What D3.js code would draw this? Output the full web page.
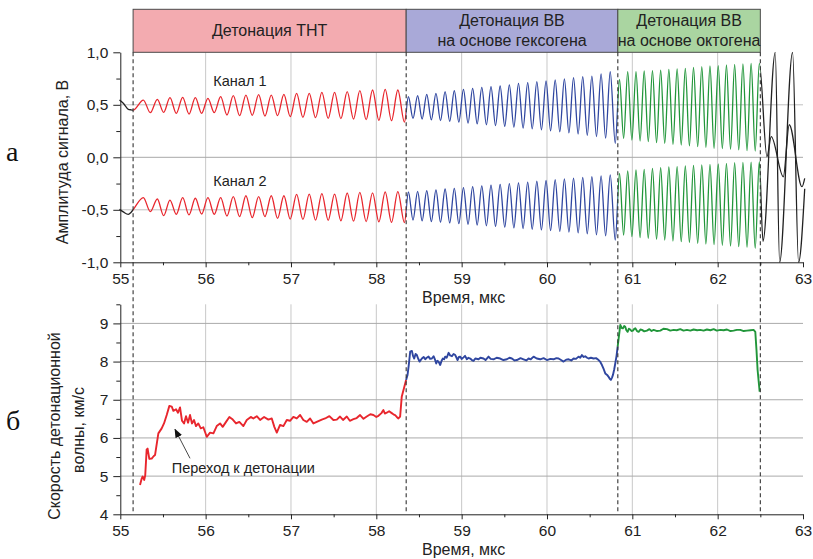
<!DOCTYPE html>
<html><head><meta charset="utf-8">
<script src="https://cdn.jsdelivr.net/npm/d3@7"></script>
<style>
body{margin:0;background:#fff}
svg{display:block}
</style>
</head><body><svg id="c" width="813" height="559"></svg>
<script>
// ---------------- DATA ----------------
const timeTicks = [55,56,57,58,59,60,61,62,63];
const timeMinor = [55.5,56.5,57.5,58.5,59.5,60.5,61.5,62.5];
const ampTicks = [-1,-0.5,0,0.5,1];
const ampTickLabels = ["-1,0","-0,5","0,0","0,5","1,0"];
const ampMinor = [-0.75,-0.25,0.25,0.75];
const velTicks = [4,5,6,7,8,9];
const velMinor = [4.5,5.5,6.5,7.5,8.5,9.5];

const phaseBounds = [55.15, 58.35, 60.83, 62.5];
const phaseNames = [["Детонация ТНТ"],["Детонация ВВ","на основе гексогена"],["Детонация ВВ","на основе октогена"]];
const phaseFills = ["#f3abb0","#a9a9d8","#aad5a1"];
const phaseColors = ["#e8262d","#2f46a0","#21963a"];

// signal extrema (time, µs) shared by both channels from 55.15 to 62.49
const sigTimes = [55.150,
 55.270,55.352,55.434,55.508,55.582,55.656,55.731,55.805,55.879,55.953,
 56.027,56.101,56.176,56.250,56.324,56.398,56.472,56.546,56.621,56.695,
 56.769,56.843,56.917,56.991,57.066,57.140,57.214,57.288,57.362,57.436,
 57.511,57.585,57.659,57.733,57.807,57.881,57.956,58.030,58.104,58.178,
 58.252,58.330,
 58.376,58.430,58.484,58.537,58.591,58.645,58.699,58.752,58.806,58.860,
 58.914,58.967,59.021,59.075,59.129,59.182,59.236,59.290,59.344,59.397,
 59.451,59.505,59.559,59.612,59.666,59.720,59.774,59.827,59.881,59.935,
 59.989,60.042,60.096,60.150,60.204,60.257,60.311,60.365,60.419,60.472,
 60.526,60.580,60.634,60.687,60.741,60.800,
 60.850,60.898,60.946,60.995,61.043,61.091,61.139,61.187,61.236,61.284,
 61.332,61.380,61.428,61.476,61.525,61.573,61.621,61.669,61.717,61.766,
 61.814,61.862,61.910,61.958,62.007,62.055,62.103,62.151,62.199,62.247,
 62.296,62.344,62.392,62.440,62.488];

const ch1Values = [0.45,
 0.545,0.425,0.552,0.428,0.568,0.419,0.571,0.412,0.568,0.419,0.562,0.425,0.577,0.403,0.587,0.397,0.593,0.400,0.597,0.393,
 0.593,0.397,0.600,0.387,0.609,0.381,0.609,0.377,0.619,0.371,0.619,0.368,0.625,0.365,0.635,0.358,0.641,0.352,0.647,0.349,
 0.641,0.335,
 0.577,0.370,0.587,0.365,0.600,0.357,0.609,0.350,0.625,0.342,0.635,0.335,0.647,0.326,0.657,0.318,0.666,0.310,0.673,0.302,
 0.679,0.295,0.689,0.287,0.704,0.278,0.711,0.270,0.720,0.262,0.727,0.252,0.736,0.243,0.746,0.232,0.758,0.222,0.768,0.210,
 0.774,0.198,0.794,0.182,0.815,0.133,
 0.743,0.181,0.816,0.165,0.816,0.155,0.822,0.149,0.825,0.139,0.831,0.133,0.838,0.124,0.841,0.117,0.847,0.108,0.857,0.101,
 0.863,0.095,0.870,0.085,0.873,0.082,0.879,0.076,0.885,0.070,0.889,0.063,0.895,0.060,0.895];

const ch2Values = [-0.50,
 -0.384,-0.518,-0.397,-0.556,-0.407,-0.543,-0.384,-0.549,-0.390,-0.540,-0.384,-0.543,-0.384,-0.559,-0.375,-0.565,-0.366,-0.575,-0.375,-0.565,
 -0.366,-0.581,-0.366,-0.588,-0.353,-0.592,-0.350,-0.598,-0.345,-0.600,-0.350,-0.605,-0.340,-0.608,-0.335,-0.612,-0.338,-0.615,-0.330,-0.620,
 -0.327,-0.623,
 -0.330,-0.597,-0.325,-0.605,-0.318,-0.612,-0.310,-0.618,-0.302,-0.625,-0.295,-0.632,-0.288,-0.638,-0.280,-0.645,-0.272,-0.652,-0.265,-0.658,
 -0.258,-0.665,-0.250,-0.672,-0.243,-0.678,-0.236,-0.685,-0.228,-0.692,-0.221,-0.698,-0.214,-0.705,-0.206,-0.712,-0.199,-0.720,-0.192,-0.728,
 -0.184,-0.738,-0.176,-0.748,-0.168,-0.788,
 -0.153,-0.740,-0.130,-0.756,-0.121,-0.765,-0.115,-0.772,-0.105,-0.781,-0.099,-0.788,-0.092,-0.797,-0.089,-0.804,-0.083,-0.810,-0.077,-0.819,
 -0.073,-0.826,-0.067,-0.832,-0.064,-0.838,-0.057,-0.845,-0.051,-0.851,-0.048,-0.857,-0.045,-0.867,-0.042];

const headTimes = [54.99,55.035,55.094,55.125];
const ch1Head = [0.545,0.514,0.457,0.452];
const ch2Head = [-0.496,-0.52,-0.543,-0.525];
const ch1TailTimes = [62.578,62.628,62.769,62.839,62.988,63.02];
const ch1Tail = [0.006,0.196,-0.185,0.31,-0.28,-0.2];
const ch2TailTimes = [62.531,62.675,62.726,62.878,62.948,63.02];
const ch2Tail = [-0.80,1.0,-1.0,1.0,-1.0,-0.3];

// detonation velocity, km/s
const velTNT = [[55.231,4.77],[55.250,4.93],[55.262,4.99],[55.280,4.90],[55.292,5.02],[55.309,5.70],[55.320,5.72],[55.340,5.45],[55.368,5.46],[55.390,5.52],[55.407,5.55],[55.446,6.12],[55.485,6.25],[55.512,6.38],[55.544,6.60],[55.575,6.84],[55.603,6.82],[55.622,6.71],[55.653,6.75],[55.676,6.66],[55.700,6.80],[55.723,6.45],[55.747,6.38],[55.770,6.57],[55.794,6.40],[55.817,6.60],[55.840,6.38],[55.864,6.47],[55.887,6.31],[55.914,6.38],[55.943,6.25],[55.973,6.28],[56.013,6.03],[56.052,6.14],[56.091,6.12],[56.130,6.31],[56.169,6.38],[56.200,6.29],[56.239,6.42],[56.278,6.55],[56.318,6.48],[56.356,6.38],[56.395,6.42],[56.442,6.31],[56.482,6.47],[56.529,6.55],[56.559,6.51],[56.599,6.57],[56.638,6.47],[56.685,6.55],[56.735,6.48],[56.775,6.51],[56.805,6.29],[56.834,6.14],[56.872,6.34],[56.911,6.31],[56.951,6.47],[56.989,6.45],[57.028,6.55],[57.068,6.51],[57.107,6.60],[57.145,6.47],[57.185,6.42],[57.224,6.51],[57.263,6.38],[57.302,6.42],[57.361,6.48],[57.400,6.51],[57.450,6.57],[57.497,6.47],[57.537,6.48],[57.575,6.56],[57.610,6.47],[57.654,6.56],[57.690,6.45],[57.732,6.49],[57.770,6.52],[57.810,6.60],[57.850,6.50],[57.888,6.56],[57.930,6.62],[57.966,6.60],[58.000,6.55],[58.025,6.58],[58.060,6.65],[58.083,6.73],[58.100,6.64],[58.122,6.66],[58.150,6.70],[58.181,6.65],[58.200,6.62],[58.220,6.60],[58.240,6.55],[58.259,6.51],[58.279,6.56],[58.298,7.08],[58.349,7.52]];
const velRDX = [[58.349,7.52],[58.366,7.65],[58.380,7.90],[58.397,8.26],[58.417,8.28],[58.430,8.15],[58.444,8.08],[58.460,8.20],[58.475,8.17],[58.490,8.08],[58.507,8.00],[58.520,8.04],[58.534,8.08],[58.555,8.12],[58.573,8.06],[58.590,8.10],[58.612,8.13],[58.630,8.07],[58.651,8.08],[58.671,8.14],[58.688,8.05],[58.702,7.95],[58.715,8.02],[58.729,8.00],[58.749,7.91],[58.765,8.02],[58.780,8.08],[58.795,8.06],[58.807,8.13],[58.825,8.10],[58.847,8.23],[58.865,8.16],[58.886,8.14],[58.905,8.20],[58.925,8.17],[58.940,8.10],[58.952,8.04],[58.968,8.12],[58.983,8.13],[59.000,8.07],[59.022,8.11],[59.040,8.15],[59.061,8.06],[59.080,8.10],[59.100,8.08],[59.120,8.04],[59.139,8.02],[59.160,8.08],[59.198,8.06],[59.220,8.10],[59.256,8.08],[59.280,8.04],[59.315,8.13],[59.340,8.07],[59.374,8.06],[59.410,8.10],[59.452,8.08],[59.490,8.04],[59.530,8.06],[59.560,8.10],[59.589,8.08],[59.620,8.03],[59.647,8.04],[59.690,8.09],[59.725,8.06],[59.760,8.03],[59.784,8.08],[59.810,8.06],[59.843,8.13],[59.880,8.08],[59.921,8.06],[59.960,8.09],[59.999,8.04],[60.040,8.07],[60.077,8.06],[60.110,8.09],[60.136,8.08],[60.165,8.04],[60.194,8.00],[60.225,8.05],[60.253,8.06],[60.285,8.03],[60.312,8.08],[60.340,8.07],[60.370,8.13],[60.390,8.10],[60.409,8.17],[60.430,8.12],[60.448,8.14],[60.470,8.10],[60.487,8.08],[60.515,8.10],[60.546,8.08],[60.575,8.09],[60.605,8.04],[60.625,7.99],[60.644,7.91],[60.665,7.80],[60.683,7.69],[60.705,7.65],[60.722,7.60],[60.735,7.55],[60.749,7.52],[60.762,7.58],[60.773,7.65],[60.788,7.80],[60.800,7.95],[60.815,8.15],[60.828,8.39]];
const velHMX = [[60.828,8.39],[60.845,8.70],[60.859,8.96],[60.875,8.88],[60.890,8.87],[60.905,8.93],[60.917,8.91],[60.930,8.82],[60.945,8.78],[60.960,8.86],[60.976,8.84],[60.990,8.80],[61.007,8.81],[61.020,8.85],[61.035,8.87],[61.055,8.80],[61.074,8.78],[61.095,8.84],[61.113,8.83],[61.140,8.79],[61.171,8.81],[61.200,8.85],[61.225,8.80],[61.250,8.83],[61.290,8.80],[61.328,8.81],[61.365,8.86],[61.406,8.85],[61.445,8.81],[61.484,8.83],[61.520,8.82],[61.562,8.85],[61.600,8.81],[61.640,8.83],[61.680,8.81],[61.718,8.84],[61.760,8.82],[61.796,8.83],[61.835,8.81],[61.874,8.84],[61.915,8.82],[61.953,8.85],[61.990,8.81],[62.031,8.83],[62.070,8.82],[62.109,8.84],[62.150,8.80],[62.187,8.81],[62.225,8.83],[62.265,8.83],[62.305,8.80],[62.343,8.81],[62.385,8.82],[62.421,8.83],[62.441,8.78],[62.455,8.30],[62.468,7.78],[62.492,7.21]];

const channelLabels = [{t:56.09, v:0.679, text:"Канал 1"},{t:56.09, v:-0.278, text:"Канал 2"}];
const arrowNote = {text:"Переход к детонации", textT:55.603, textV:5.09, fromT:55.817, fromV:5.466, toT:55.641, toV:6.225};

// ---------------- CHART ----------------
const svg = d3.select("#c");
const FONT = '"Liberation Sans",Arial,sans-serif';
const SERIF = '"Liberation Serif","Times New Roman",serif';
const x = d3.scaleLinear().domain([55,63]).range([120.3,803]);
const yA = d3.scaleLinear().domain([-1,1]).range([262.3,52.3]);
const yV = d3.scaleLinear().domain([4,9.5]).range([514.3,304.3]);

function label(sel){ return sel.style("font-family",FONT).attr("fill","#222"); }

const defs = svg.append("defs");
defs.append("marker").attr("id","ah").attr("viewBox","0 0 10 10").attr("refX",9).attr("refY",5)
  .attr("markerWidth",9).attr("markerHeight",9).attr("markerUnits","userSpaceOnUse").attr("orient","auto")
  .append("path").attr("d","M0,1 L10,5 L0,9 Z").attr("fill","#111");

// grids
const gTop = svg.append("g");
gTop.selectAll(".vg").data(timeTicks.slice(1,-1)).join("line")
  .attr("x1",d=>x(d)).attr("x2",d=>x(d)).attr("y1",yA(1)).attr("y2",yA(-1))
  .attr("stroke","#c8c8c8").attr("stroke-width",1);
gTop.selectAll(".hg").data([-0.5,0,0.5]).join("line")
  .attr("x1",x(55)).attr("x2",x(63)).attr("y1",d=>yA(d)).attr("y2",d=>yA(d))
  .attr("stroke",d=>d===0?"#a8a8a8":"#c0c0c0").attr("stroke-width",1);
const gBot = svg.append("g");
gBot.selectAll(".vg").data(timeTicks.slice(1,-1)).join("line")
  .attr("x1",d=>x(d)).attr("x2",d=>x(d)).attr("y1",yV(9.5)).attr("y2",yV(4))
  .attr("stroke","#c8c8c8").attr("stroke-width",1);
gBot.selectAll(".hg").data(velTicks.slice(1)).join("line")
  .attr("x1",x(55)).attr("x2",x(63)).attr("y1",d=>yV(d)).attr("y2",d=>yV(d))
  .attr("stroke","#aaaaaa").attr("stroke-width",1);

// phase header boxes
const hb = svg.append("g");
phaseNames.forEach((lines,i)=>{
  const x0 = x(phaseBounds[i]), x1 = x(phaseBounds[i+1]);
  hb.append("rect").attr("x",x0).attr("y",9.3).attr("width",x1-x0).attr("height",yA(1)-9.3)
    .attr("fill",phaseFills[i]).attr("stroke","#4a4a4a").attr("stroke-width",1);
  const cx = (x0+x1)/2;
  if(lines.length===1){
    label(hb.append("text")).attr("x",cx).attr("y",36.3).attr("text-anchor","middle")
      .attr("font-size",16).text(lines[0]);
  } else {
    label(hb.append("text")).attr("x",cx).attr("y",26).attr("text-anchor","middle").attr("font-size",16).text(lines[0]);
    label(hb.append("text")).attr("x",cx).attr("y",45.5).attr("text-anchor","middle").attr("font-size",16).text(lines[1]);
  }
});

// clip regions for signal colouring
const segDefs = [
  {id:"segK", ranges:[[54.9,phaseBounds[0]],[phaseBounds[3],63.1]], color:"#222"},
  {id:"seg0", ranges:[[phaseBounds[0],phaseBounds[1]]], color:phaseColors[0]},
  {id:"seg1", ranges:[[phaseBounds[1],phaseBounds[2]]], color:phaseColors[1]},
  {id:"seg2", ranges:[[phaseBounds[2],phaseBounds[3]]], color:phaseColors[2]}
];
segDefs.forEach(s=>{
  const cp = defs.append("clipPath").attr("id",s.id);
  s.ranges.forEach(r=>{
    cp.append("rect").attr("x",x(r[0])).attr("y",yA(1)-0.5).attr("width",x(r[1])-x(r[0])).attr("height",yA(-1)-yA(1)+1);
  });
});

function series(ht,hv,bt,bv,tt,tv){
  const pts=[];
  ht.forEach((t,i)=>pts.push([t,hv[i]]));
  bt.forEach((t,i)=>pts.push([t,bv[i]]));
  tt.forEach((t,i)=>pts.push([t,tv[i]]));
  return pts;
}
const ch1 = series(headTimes,ch1Head,sigTimes,ch1Values,ch1TailTimes,ch1Tail);
const ch2 = series(headTimes,ch2Head,sigTimes,ch2Values,ch2TailTimes,ch2Tail);
const sigLine = d3.line().x(d=>x(d[0])).y(d=>yA(d[1])).curve(d3.curveMonotoneX);
const gs = svg.append("g");
segDefs.forEach(s=>{
  const g = gs.append("g").attr("clip-path",`url(#${s.id})`);
  [ch1,ch2].forEach(ch=>{
    g.append("path").attr("d",sigLine(ch)).attr("fill","none").attr("stroke",s.color).attr("stroke-width",1.3);
  });
});

channelLabels.forEach(c=>{
  label(svg.append("text")).attr("x",x(c.t)).attr("y",yA(c.v)).attr("font-size",14.5).text(c.text);
});

// velocity lines
const velLine = d3.line().x(d=>x(d[0])).y(d=>yV(d[1]));
[velTNT,velRDX,velHMX].forEach((d,i)=>{
  svg.append("path").attr("d",velLine(d)).attr("fill","none").attr("stroke",phaseColors[i])
    .attr("stroke-width",1.9).attr("stroke-linejoin","round");
});

// annotation
svg.append("line").attr("x1",x(arrowNote.fromT)).attr("y1",yV(arrowNote.fromV))
  .attr("x2",x(arrowNote.toT)).attr("y2",yV(arrowNote.toV))
  .attr("stroke","#333").attr("stroke-width",0.9).attr("marker-end","url(#ah)");
label(svg.append("text")).attr("x",x(arrowNote.textT)).attr("y",yV(arrowNote.textV)).attr("font-size",14.5).text(arrowNote.text);

// dashed phase boundaries
svg.selectAll(".pb").data(phaseBounds).join("line")
  .attr("x1",d=>x(d)).attr("x2",d=>x(d)).attr("y1",yA(1)).attr("y2",yV(4))
  .attr("stroke","#333").attr("stroke-width",1.1).attr("stroke-dasharray","4,3");

// axes
function styleAxis(g){
  g.selectAll("path.domain").attr("stroke","#222").attr("stroke-width",1);
  g.selectAll(".tick line").attr("stroke","#222").attr("stroke-width",1);
  g.selectAll("text").style("font-family",FONT).attr("font-size",15.5).attr("fill","#222");
}
function minorAxis(g){ g.select("path.domain").remove(); g.selectAll(".tick line").attr("stroke","#222"); }

const axA = svg.append("g").attr("transform",`translate(${x(55)},0)`)
  .call(d3.axisLeft(yA).tickValues(ampTicks).tickFormat((d,i)=>ampTickLabels[i]).tickSize(7).tickPadding(5).tickSizeOuter(0));
styleAxis(axA);
svg.append("g").attr("transform",`translate(${x(55)},0)`)
  .call(d3.axisLeft(yA).tickValues(ampMinor).tickFormat("").tickSize(4)).call(minorAxis);
const axTx = svg.append("g").attr("transform",`translate(0,${yA(-1)})`)
  .call(d3.axisBottom(x).tickValues(timeTicks).tickFormat(d=>String(d)).tickSize(5).tickPadding(6).tickSizeOuter(0));
styleAxis(axTx);
svg.append("g").attr("transform",`translate(0,${yA(-1)})`)
  .call(d3.axisBottom(x).tickValues(timeMinor).tickFormat("").tickSize(3)).call(minorAxis);

const axV = svg.append("g").attr("transform",`translate(${x(55)},0)`)
  .call(d3.axisLeft(yV).tickValues(velTicks).tickFormat(d=>String(d)).tickSize(7).tickPadding(5).tickSizeOuter(0));
styleAxis(axV);
svg.append("g").attr("transform",`translate(${x(55)},0)`)
  .call(d3.axisLeft(yV).tickValues(velMinor).tickFormat("").tickSize(4)).call(minorAxis);
const axBx = svg.append("g").attr("transform",`translate(0,${yV(4)})`)
  .call(d3.axisBottom(x).tickValues(timeTicks).tickFormat(d=>String(d)).tickSize(5).tickPadding(6).tickSizeOuter(0));
styleAxis(axBx);
svg.append("g").attr("transform",`translate(0,${yV(4)})`)
  .call(d3.axisBottom(x).tickValues(timeMinor).tickFormat("").tickSize(3)).call(minorAxis);

// axis titles
const midX = (x(55)+x(63))/2 + 2;
label(svg.append("text")).attr("x",midX).attr("y",302.5).attr("text-anchor","middle").attr("font-size",16).text("Время, мкс");
label(svg.append("text")).attr("x",midX).attr("y",554.5).attr("text-anchor","middle").attr("font-size",16).text("Время, мкс");
label(svg.append("text")).attr("transform","translate(67.5,162) rotate(-90)").attr("text-anchor","middle").attr("font-size",16).text("Амплитуда сигнала, В");
label(svg.append("text")).attr("transform","translate(60,426) rotate(-90)").attr("text-anchor","middle").attr("font-size",16).text("Скорость детонационной");
label(svg.append("text")).attr("transform","translate(84,430) rotate(-90)").attr("text-anchor","middle").attr("font-size",16).text("волны, км/с");

// panel letters
svg.append("text").attr("x",6).attr("y",160.5).style("font-family",SERIF).attr("font-size",28).attr("fill","#111").text("а");
svg.append("text").attr("x",6).attr("y",430).style("font-family",SERIF).attr("font-size",28).attr("fill","#111").text("б");
</script>
</body></html>
